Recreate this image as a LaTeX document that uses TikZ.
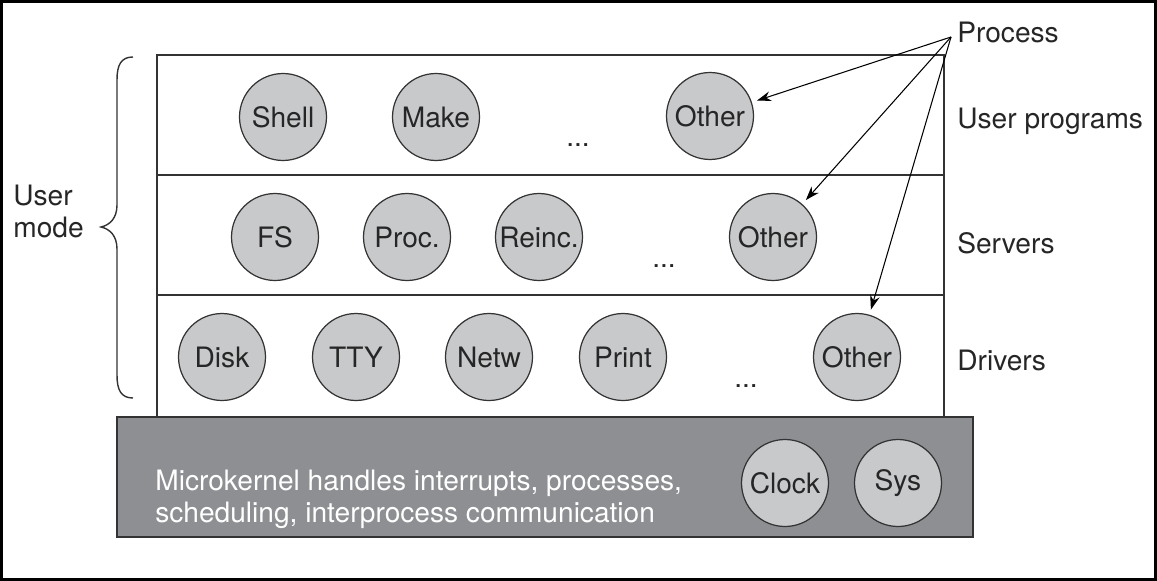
\documentclass[tikz,border=0pt]{standalone}
\usepackage{fontspec}
\setmainfont{TeX Gyre Heros}
\usetikzlibrary{arrows.meta}

\definecolor{procGray}{HTML}{C8C9CB}
\definecolor{kernelGray}{HTML}{8E8F92}
\definecolor{lineGray}{HTML}{333333}

\tikzset{>={Stealth[length=8pt,width=5.5pt]},
	proc/.style={circle,draw=lineGray,line width=0.7pt,fill=procGray,minimum size=1.74cm,inner sep=0pt,font=\fontsize{16}{18}\selectfont,text=black!85},
	lbl/.style={font=\fontsize{16}{18.1}\selectfont,text=black!85,inner sep=0pt,align=left},
	pointer/.style={->,line width=0.6pt,shorten >=3pt}}

\begin{document}
\begin{tikzpicture}[x=0.02cm,y=-0.02cm] % pixel grid
		\newcommand{\layerLeft}{157}
		\newcommand{\layerRight}{944}
		
		\useasboundingbox (0,0) rectangle (1157,581);
		\draw[black,line width=1.7pt] (1.5,1.5) rectangle (1155.5,579.5);	% frame
		
		% layers
		\draw[lineGray,line width=1.1pt] (\layerLeft,55) rectangle (\layerRight,175);	% user programs
		\draw[lineGray,line width=1.1pt] (\layerLeft,175) rectangle (\layerRight,295);	% servers
		\draw[lineGray,line width=1.1pt] (\layerLeft,295) rectangle (\layerRight,417);	% drivers
		\filldraw[fill=kernelGray,draw=lineGray,line width=1.1pt] (117,417) rectangle (973,537);	% kernel
		
		% user programs
		\node[proc] (shell) at (283,117) {Shell};
		\node[proc] (make) at (436,117) {Make};
		\node[lbl] (dotsU) at (578,145) {...};
		\node[proc] (otherU) at (710,116) {Other};
		
		% servers
		\node[proc] (fs) at (275,237) {FS};
		\node[proc] (procm) at (407,237) {Proc.};
		\node[proc] (reinc) at (539,237) {Reinc.};
		\node[lbl] (dotsS) at (664,266) {...};
		\node[proc] (otherS) at (773,237) {Other};
		
		% drivers
		\node[proc] (disk) at (222,357) {Disk};
		\node[proc] (tty) at (356,357) {TTY};
		\node[proc] (netw) at (489,357) {Netw};
		\node[proc] (print) at (623,357) {Print};
		\node[lbl] (dotsD) at (746,386) {...};
		\node[proc] (otherD) at (857,357) {Other};
		
		% kernel
		\node[lbl,text=white,anchor=base west] (kernel) at (155,522) {Microkernel handles interrupts, processes,\\scheduling, interprocess communication};
		\node[proc] (clock) at (785,483) {Clock};
		\node[proc] (sys) at (898,483) {Sys};
		
		% labels on the right
		\node[lbl,anchor=base west] (process) at (957,43) {Process};
		\node[lbl,anchor=base west] (userprog) at (957,129) {User programs};
		\node[lbl,anchor=base west] (servers) at (957,254) {Servers};
		\node[lbl,anchor=base west] (drivers) at (957,370) {Drivers};
		
		% user mode brace
		\node[lbl,anchor=base west] (usermode) at (13,237) {User\\mode};
		\draw[lineGray,line width=0.8pt] (133,57) .. controls (121,57) and (117,65) .. (117,80) -- (117,205) .. controls (117,218) and (110,225) .. (101,227) .. controls (110,229) and (117,236) .. (117,249) -- (117,375) .. controls (117,390) and (121,398) .. (133,398);
		
		% arrows
		\coordinate (procTip) at (951,37);
		\draw[pointer] (procTip) -- (otherU);
		\draw[pointer] (procTip) -- (otherS);
		\draw[pointer] (procTip) -- (otherD);
\end{tikzpicture}
\end{document}
